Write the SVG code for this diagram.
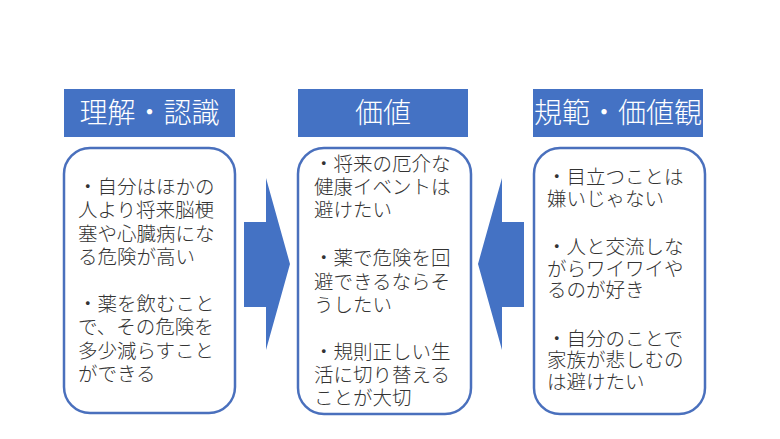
<svg xmlns="http://www.w3.org/2000/svg" width="780" height="439" viewBox="0 0 780 439">
<style>
.hdr{fill:#4472C4}
.htx{fill:#ffffff;font-family:"Noto Sans CJK JP","Noto Sans",sans-serif;font-size:28px;font-weight:300;text-anchor:middle}
.box{fill:#ffffff;stroke:#4A70BD;stroke-width:2.5}
.btx{fill:#333333;font-family:"Noto Sans CJK JP","Noto Sans",sans-serif;font-size:19.5px;font-weight:300}
.arr{fill:#4472C4}
</style>
<rect width="780" height="439" fill="#ffffff"/>
<g id="connectors">
<polygon class="arr" points="244,222 266,222 266,178 290,264 266,350 266,307 244,307"/>
<polygon class="arr" points="524,222 502,222 502,178 478,264 502,350 502,307 524,307"/>
</g>
<g id="understanding">
<rect class="hdr" x="64" y="89" width="171" height="48"/>
<text class="htx" x="149.5" y="123">理解・認識</text>
<rect class="box" x="64" y="148" width="171" height="265" rx="26"/>
<text class="btx"><tspan x="78" y="194">・自分はほかの</tspan><tspan x="78" y="217.4">人より将来脳梗</tspan><tspan x="78" y="240.8">塞や心臓病にな</tspan><tspan x="78" y="264.2">る危険が高い</tspan><tspan x="78" y="311">・薬を飲むこと</tspan><tspan x="78" y="334.4">で、その危険を</tspan><tspan x="78" y="357.8">多少減らすこと</tspan><tspan x="78" y="381.2">ができる</tspan></text>
</g>
<g id="value">
<rect class="hdr" x="298" y="89" width="170" height="48"/>
<text class="htx" x="383" y="123">価値</text>
<rect class="box" x="298" y="148" width="173" height="266" rx="26"/>
<text class="btx"><tspan x="314" y="171">・将来の厄介な</tspan><tspan x="314" y="194">健康イベントは</tspan><tspan x="314" y="217">避けたい</tspan><tspan x="314" y="265">・薬で危険を回</tspan><tspan x="314" y="288.5">避できるならそ</tspan><tspan x="314" y="312">うしたい</tspan><tspan x="314" y="359">・規則正しい生</tspan><tspan x="314" y="382">活に切り替える</tspan><tspan x="314" y="405">ことが大切</tspan></text>
</g>
<g id="norms">
<rect class="hdr" x="533" y="89" width="170" height="48"/>
<text class="htx" x="618" y="123">規範・価値観</text>
<rect class="box" x="534" y="148" width="171" height="266" rx="26"/>
<text class="btx"><tspan x="547" y="184">・目立つことは</tspan><tspan x="547" y="205.5">嫌いじゃない</tspan><tspan x="547" y="254">・人と交流しな</tspan><tspan x="547" y="275.5">がらワイワイや</tspan><tspan x="547" y="297">るのが好き</tspan><tspan x="547" y="345.5">・自分のことで</tspan><tspan x="547" y="367">家族が悲しむの</tspan><tspan x="547" y="389">は避けたい</tspan></text>
</g>
</svg>
